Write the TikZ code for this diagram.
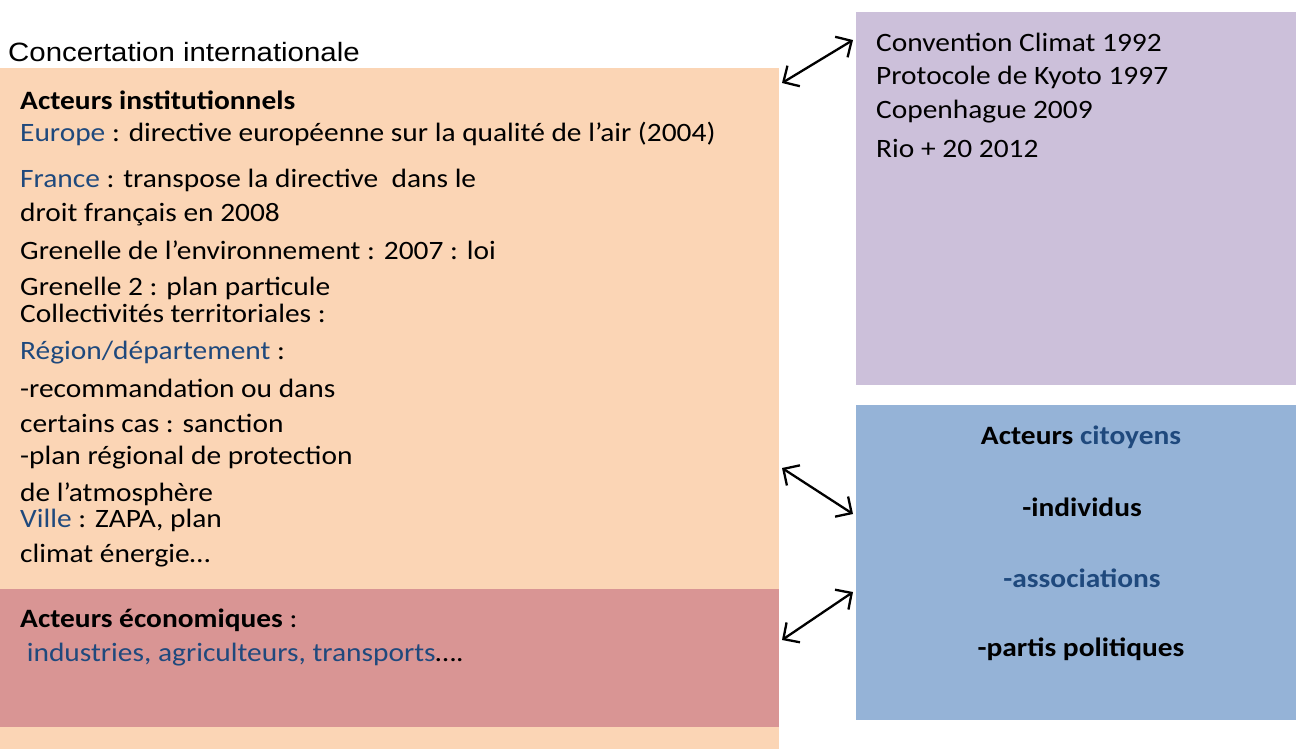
\documentclass[tikz,border=0pt]{standalone}
\usepackage{fontspec}
\setmainfont{Carlito}[FakeStretch=1.11]
\newfontfamily\arialf{Liberation Sans}[FakeStretch=1.11]
\usetikzlibrary{arrows.meta}
\definecolor{peach}{HTML}{FBD5B5}
\definecolor{rosy}{HTML}{D99594}
\definecolor{lilac}{HTML}{CCC0DA}
\definecolor{skyb}{HTML}{95B3D7}
\definecolor{txtblue}{HTML}{1F497D}
\tikzset{
  ln/.style={anchor=west, inner sep=0pt, font=\fontsize{26.5}{31}\selectfont, text=black},
  ctr/.style={anchor=center, inner sep=0pt, font=\fontsize{26.5}{31}\selectfont\bfseries, text=black},
  biarrow/.style={{Straight Barb[length=12pt,width=24pt]}-{Straight Barb[length=12pt,width=24pt]}, line width=2.3pt, black}
}
\begin{document}
\begin{tikzpicture}[x=1pt,y=-1pt]
\useasboundingbox (0,0) rectangle (1296,749);
\fill[white] (0,0) rectangle (1296,749);
% boxes
\fill[peach] (0,68) rectangle (779,749);
\fill[rosy] (0,589) rectangle (779,727);
\fill[lilac] (856,12) rectangle (1296,385);
\fill[skyb] (856,405) rectangle (1296,720);
% title
\node[anchor=west, inner sep=0pt, font=\arialf\fontsize{26.5}{31}\selectfont] (title) at (8,52) {Concertation internationale};
% left block
\node[ln] (t1) at (20,100) {\bfseries Acteurs institutionnels};
\node[ln] (t2) at (20,134) {\textcolor{txtblue}{Europe} : directive européenne sur la qualité de l’air (2004)};
\node[ln] (t3) at (20,180) {\textcolor{txtblue}{France} : transpose la directive\ \ dans le};
\node[ln] (t4) at (20,215) {droit français en 2008};
\node[ln] (t5) at (20,250) {Grenelle de l’environnement : 2007 : loi};
\node[ln] (t6) at (20,288) {Grenelle 2 : plan particule};
\node[ln] (t7) at (20,313) {Collectivités territoriales :};
\node[ln] (t8) at (20,353) {\textcolor{txtblue}{Région/département} :};
\node[ln] (t9) at (20,388) {-recommandation ou dans};
\node[ln] (t10) at (20,423) {certains cas : sanction};
\node[ln] (t11) at (20,458) {-plan régional de protection};
\node[ln] (t12) at (20,494) {de l’atmosphère};
\node[ln] (t13) at (20,520) {\textcolor{txtblue}{Ville} : ZAPA, plan};
\node[ln] (t14) at (20,556) {climat énergie…};
\node[ln] (e1) at (20,620) {\textbf{Acteurs économiques} :};
\node[ln] (e2) at (20,655) {\ \textcolor{txtblue}{industries, agriculteurs, transports}….};
% purple block
\node[ln] (p1) at (876,42) {Convention Climat 1992};
\node[ln] (p2) at (876,77) {Protocole de Kyoto 1997};
\node[ln] (p3) at (876,112) {Copenhague 2009};
\node[ln] (p4) at (876,148) {Rio + 20 2012};
% blue block
\node[ctr] (c1) at (1081,437) {Acteurs \textcolor{txtblue}{citoyens}};
\node[ctr] (c2) at (1082,507) {-individus};
\node[ctr, text=txtblue] (c3) at (1082,578) {-associations};
\node[ctr] (c4) at (1081,649) {-partis politiques};
% arrow ends
\coordinate (a1l) at (782,83);
\coordinate (a1r) at (853,40);
\coordinate (a2l) at (782,468);
\coordinate (a2r) at (853,514);
\coordinate (a3l) at (782,640);
\coordinate (a3r) at (853,592);
\draw[biarrow] (a1l) -- (a1r);
\draw[biarrow] (a2l) -- (a2r);
\draw[biarrow] (a3l) -- (a3r);
\end{tikzpicture}
\end{document}
